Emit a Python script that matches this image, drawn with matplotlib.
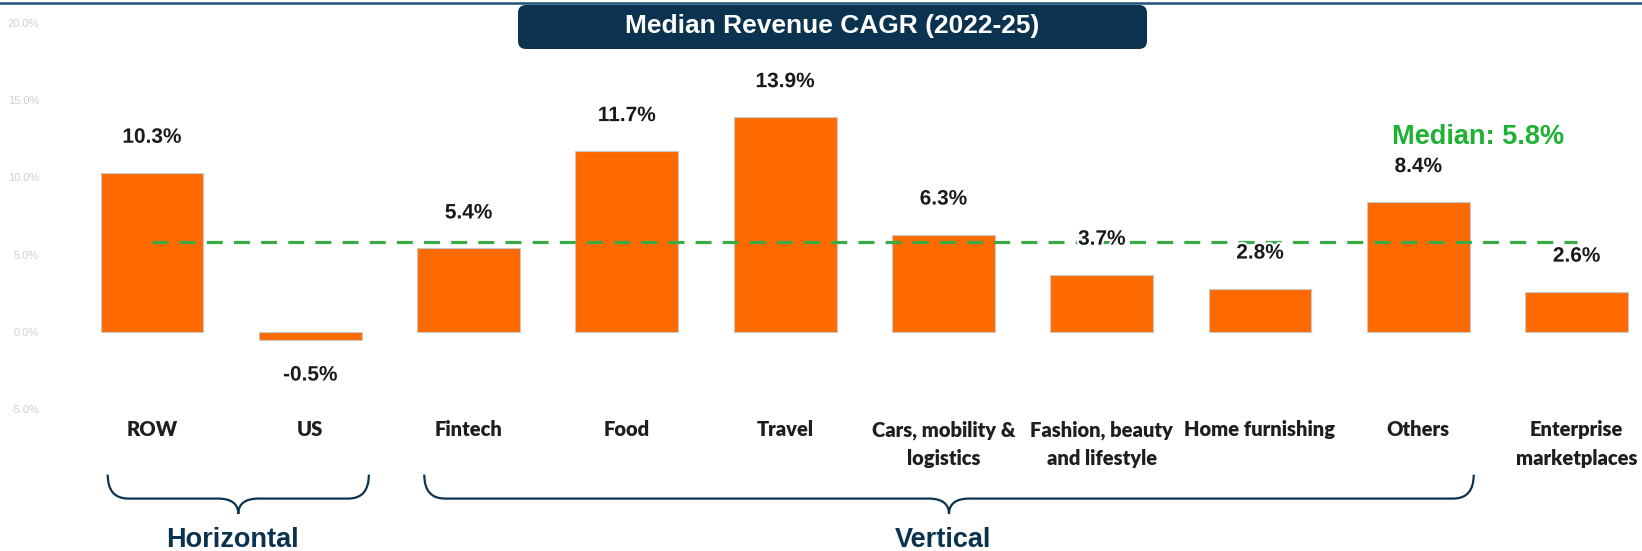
import numpy as np
import matplotlib
matplotlib.use('Agg')
import matplotlib.pyplot as plt
import matplotlib.patheffects as pe
from matplotlib.patches import FancyBboxPatch, PathPatch
from matplotlib.path import Path
from matplotlib.lines import Line2D

categories = ['ROW', 'US', 'Fintech', 'Food', 'Travel', 'Cars, mobility &\nlogistics',
              'Fashion, beauty\nand lifestyle', 'Home furnishing', 'Others',
              'Enterprise\nmarketplaces']
cagr = [10.3, -0.5, 5.4, 11.7, 13.9, 6.3, 3.7, 2.8, 8.4, 2.6]
median_cagr = 5.8
yticks = [-5, 0, 5, 10, 15, 20]
groups = ['Horizontal', 'Vertical']
group_spans = [(-0.28, 1.37), (1.72, 8.35)]

NAVY = '#0B3350'
ORANGE = '#FF6A00'
GREEN = '#3AAA45'

fig = plt.figure(figsize=(16.42, 5.51), dpi=100)
ax = fig.add_axes([0.0305, 0.2577, 0.9695, 0.7006])

x = np.arange(len(categories))
ax.bar(x, cagr, width=0.65, color=ORANGE, edgecolor='#C8C8C8', linewidth=0.8, zorder=2)

# median reference line across all categories
ax.plot([x[0], x[-1]], [median_cagr, median_cagr], color=GREEN, lw=2.3,
        dashes=(5, 3.5), zorder=3)
ax.text(8.38, 12.6, 'Median: {:.1f}%'.format(median_cagr), color='#1DB233',
        fontsize=19.5, fontweight='bold', family='Liberation Sans',
        ha='center', va='center')

halo = [pe.withStroke(linewidth=3, foreground='white')]
for xi, v in zip(x, cagr):
    off = 2.3 if v >= 0 else -2.3
    ax.text(xi, v + off, '{:.1f}%'.format(v), ha='center', va='center',
            fontsize=15, fontweight='bold', family='Liberation Sans',
            color='#1A1A1A', path_effects=halo, zorder=4)

ax.set_xlim(-0.644, 9.413)
ax.set_ylim(-5, 20)
ax.set_yticks(yticks)
ax.set_yticklabels(['{:.1f}%'.format(t) for t in yticks], fontsize=8,
                   color='#D0D0D0', family='Liberation Sans')
ax.set_xticks(x)
ax.set_xticklabels(categories, fontsize=14.5, fontweight='heavy', family='Lato',
                   color='#1E1E1E', linespacing=1.6)
ax.tick_params(axis='x', length=0, pad=8)
ax.tick_params(axis='y', length=0, pad=8)
for s in ax.spines.values():
    s.set_visible(False)

# curly brackets grouping the categories
y_top, y_mid, y_tip = -9.25, -10.8, -11.8
r = 0.13
for name, (x0, x1) in zip(groups, group_spans):
    xm = (x0 + x1) / 2
    verts = [(x0, y_top), (x0, y_mid), (x0 + r, y_mid),
             (xm - r, y_mid), (xm, y_mid), (xm, y_tip),
             (xm, y_mid), (xm + r, y_mid),
             (x1 - r, y_mid), (x1, y_mid), (x1, y_top)]
    codes = [Path.MOVETO, Path.CURVE3, Path.CURVE3,
             Path.LINETO, Path.CURVE3, Path.CURVE3,
             Path.CURVE3, Path.CURVE3,
             Path.LINETO, Path.CURVE3, Path.CURVE3]
    ax.add_patch(PathPatch(Path(verts, codes), fill=False, edgecolor=NAVY,
                           lw=1.6, clip_on=False))
    ax.text(xm - 0.04, -13.5, name, ha='center', va='center', fontsize=19.5,
            fontweight='bold', family='Liberation Sans', color=NAVY, clip_on=False)

# header rule and title box
fig.add_artist(Line2D([0, 1], [0.9945, 0.9945], transform=fig.transFigure,
                      color='#1F4E79', lw=1.8))
box = FancyBboxPatch((5.22, 5.06), 6.21, 0.36, boxstyle='round,pad=0.04,rounding_size=0.08',
                     transform=fig.dpi_scale_trans, facecolor=NAVY, edgecolor='none')
fig.add_artist(box)
fig.text(0.507, 0.953, 'Median Revenue CAGR (2022-25)', ha='center', va='center',
         color='white', fontsize=19, fontweight='bold', family='Liberation Sans')

fig.savefig('out.png', dpi=100)
